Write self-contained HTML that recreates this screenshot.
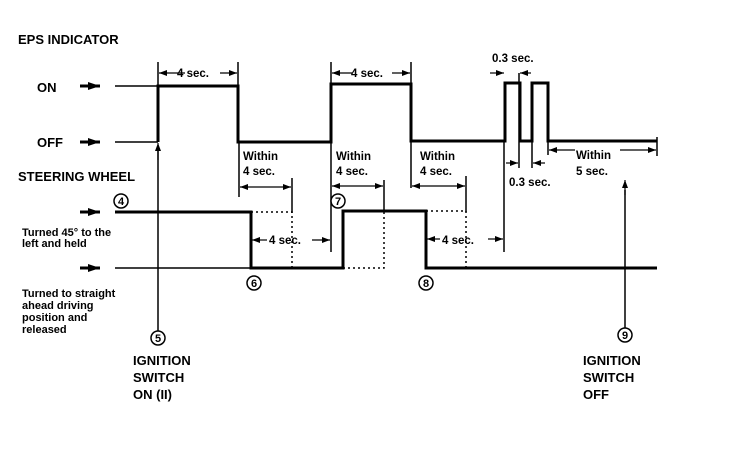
<!DOCTYPE html>
<html><head><style>
html,body{margin:0;padding:0;background:#fff;}
svg{display:block;}
text{font-family:"Liberation Sans",Arial,sans-serif;font-weight:bold;fill:#000;}
</style></head><body>
<svg width="736" height="474" viewBox="0 0 736 474" xmlns="http://www.w3.org/2000/svg">
<defs>
<marker id="a" markerWidth="8" markerHeight="6" refX="8" refY="3" orient="auto" markerUnits="userSpaceOnUse"><path d="M0,0 L8,3 L0,6 Z" fill="#000"/></marker>
<marker id="b" markerWidth="12" markerHeight="8" refX="12" refY="4" orient="auto" markerUnits="userSpaceOnUse"><path d="M0,0 L12,4 L0,8 Z" fill="#000"/></marker>
</defs>
<!-- labels -->
<text x="18" y="44" font-size="13">EPS INDICATOR</text>
<text x="37" y="92" font-size="13">ON</text>
<text x="37" y="147" font-size="13">OFF</text>
<text x="18" y="181" font-size="13">STEERING WHEEL</text>
<text x="22" y="236" font-size="11">Turned 45° to the</text>
<text x="22" y="247" font-size="11">left and held</text>
<text x="22" y="297" font-size="11">Turned to straight</text>
<text x="22" y="309" font-size="11">ahead driving</text>
<text x="22" y="321" font-size="11">position and</text>
<text x="22" y="333" font-size="11">released</text>
<text x="133" y="365" font-size="13">IGNITION</text>
<text x="133" y="382" font-size="13">SWITCH</text>
<text x="133" y="399" font-size="13">ON (II)</text>
<text x="583" y="365" font-size="13">IGNITION</text>
<text x="583" y="382" font-size="13">SWITCH</text>
<text x="583" y="399" font-size="13">OFF</text>

<!-- left arrows -->
<g stroke="#000" stroke-width="3">
<line x1="80" y1="86" x2="100" y2="86" marker-end="url(#b)"/>
<line x1="80" y1="142" x2="100" y2="142" marker-end="url(#b)"/>
<line x1="80" y1="212" x2="100" y2="212" marker-end="url(#b)"/>
<line x1="80" y1="268" x2="100" y2="268" marker-end="url(#b)"/>
</g>
<!-- thin leading lines -->
<g stroke="#000" stroke-width="1.5">
<line x1="115" y1="86" x2="158" y2="86"/>
<line x1="115" y1="142" x2="158" y2="142"/>
<line x1="115" y1="268" x2="251" y2="268"/>
</g>
<!-- EPS waveform -->
<polyline fill="none" stroke="#000" stroke-width="3" points="158,142 158,86 238,86 238,142 331,142 331,84 411,84 411,141 505,141 505,83 520,83 520,141 532,141 532,83 548,83 548,141 657,141"/>
<!-- steering waveform -->
<polyline fill="none" stroke="#000" stroke-width="3" points="115,212 251,212 251,268 343,268 343,211 426,211 426,268 657,268"/>
<!-- dotted -->
<g stroke="#000" stroke-width="1.5" stroke-dasharray="2,3" fill="none">
<polyline points="251,212 292,212 292,268"/>
<polyline points="343,268 384,268 384,212"/>
<polyline points="426,211 466,211 466,268"/>
</g>
<!-- ticks and verticals -->
<g stroke="#000" stroke-width="1.5">
<line x1="158" y1="62" x2="158" y2="86"/>
<line x1="238" y1="62" x2="238" y2="86"/>
<line x1="331" y1="62" x2="331" y2="84"/>
<line x1="411" y1="62" x2="411" y2="84"/>
<line x1="239" y1="142" x2="239" y2="197"/>
<line x1="292" y1="178" x2="292" y2="213"/>
<line x1="331" y1="142" x2="331" y2="252"/>
<line x1="384" y1="180" x2="384" y2="212"/>
<line x1="411" y1="141" x2="411" y2="188"/>
<line x1="466" y1="176" x2="466" y2="212"/>
<line x1="504" y1="141" x2="504" y2="252"/>
<line x1="519" y1="73" x2="519" y2="168"/>
<line x1="532" y1="141" x2="532" y2="168"/>
<line x1="548" y1="141" x2="548" y2="155"/>
<line x1="657" y1="137" x2="657" y2="156"/>
<line x1="158" y1="331" x2="158" y2="150"/>
<line x1="625" y1="328" x2="625" y2="190"/>
</g>
<g stroke="#000" stroke-width="1.2">
<!-- 4 sec tops -->
<line x1="185" y1="73" x2="159" y2="73" marker-end="url(#a)"/>
<line x1="220" y1="73" x2="237" y2="73" marker-end="url(#a)"/>
<line x1="352" y1="73" x2="332" y2="73" marker-end="url(#a)"/>
<line x1="392" y1="73" x2="410" y2="73" marker-end="url(#a)"/>
<!-- within 4 sec -->
<line x1="260" y1="187" x2="240" y2="187" marker-end="url(#a)"/>
<line x1="260" y1="187" x2="291" y2="187" marker-end="url(#a)"/>
<line x1="350" y1="186" x2="332" y2="186" marker-end="url(#a)"/>
<line x1="350" y1="186" x2="383" y2="186" marker-end="url(#a)"/>
<line x1="440" y1="186" x2="412" y2="186" marker-end="url(#a)"/>
<line x1="440" y1="186" x2="465" y2="186" marker-end="url(#a)"/>
<!-- 4 sec lower -->
<line x1="267" y1="240" x2="252" y2="240" marker-end="url(#a)"/>
<line x1="312" y1="240" x2="330" y2="240" marker-end="url(#a)"/>
<line x1="440" y1="239" x2="427" y2="239" marker-end="url(#a)"/>
<line x1="488" y1="239" x2="503" y2="239" marker-end="url(#a)"/>
<!-- 0.3 -->
<line x1="490" y1="73" x2="504" y2="73" marker-end="url(#a)"/>
<line x1="531" y1="73" x2="520" y2="73" marker-end="url(#a)"/>
<line x1="506" y1="163" x2="518" y2="163" marker-end="url(#a)"/>
<line x1="545" y1="163" x2="533" y2="163" marker-end="url(#a)"/>
<!-- within 5 -->
<line x1="575" y1="150" x2="549" y2="150" marker-end="url(#a)"/>
<line x1="620" y1="150" x2="656" y2="150" marker-end="url(#a)"/>
<line x1="625" y1="195" x2="625" y2="180" marker-end="url(#a)"/>
<line x1="158" y1="160" x2="158" y2="143" marker-end="url(#a)"/>
</g>
<!-- interval labels -->
<g font-size="11.5">
<text x="177" y="77">4 sec.</text>
<text x="351" y="77">4 sec.</text>
<text x="492" y="62">0.3 sec.</text>
<text x="509" y="186">0.3 sec.</text>
<text x="243" y="160">Within</text>
<text x="243" y="175">4 sec.</text>
<text x="336" y="160">Within</text>
<text x="336" y="175">4 sec.</text>
<text x="420" y="160">Within</text>
<text x="420" y="175">4 sec.</text>
<text x="576" y="159">Within</text>
<text x="576" y="175">5 sec.</text>
<text x="269" y="244">4 sec.</text>
<text x="442" y="244">4 sec.</text>
</g>
<!-- circled numbers -->
<g fill="#fff" stroke="#000" stroke-width="1.5">
<circle cx="121" cy="201" r="7"/>
<circle cx="338" cy="201" r="7"/>
<circle cx="254" cy="283" r="7"/>
<circle cx="426" cy="283" r="7"/>
<circle cx="158" cy="338" r="7"/>
<circle cx="625" cy="335" r="7"/>
</g>
<g font-size="11" text-anchor="middle">
<text x="121" y="205">4</text>
<text x="338" y="205">7</text>
<text x="254" y="287">6</text>
<text x="426" y="287">8</text>
<text x="158" y="342">5</text>
<text x="625" y="339">9</text>
</g>
</svg>
</body></html>
